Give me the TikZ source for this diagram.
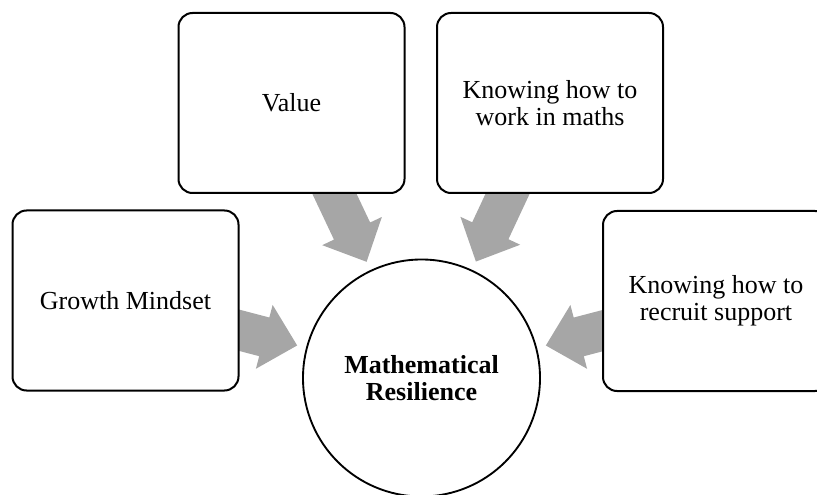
\documentclass[tikz,border=0pt]{standalone}
\usepackage{fontspec}
\setmainfont{Liberation Serif}
\usetikzlibrary{calc,backgrounds}
\begin{document}
\begin{tikzpicture}[x=0.75pt,y=-0.75pt,
  boxnode/.style={draw=black, line width=1.5pt, fill=white, rounded corners=10.5pt,
    minimum width=169.5pt, minimum height=135pt, align=center, inner sep=0pt,
    font=\fontsize{19.5}{20.5}\selectfont},
  hubnode/.style={draw=black, line width=1.4pt, fill=white, circle, minimum size=177.75pt,
    inner sep=0pt, align=center, font=\fontsize{19.5}{20.5}\selectfont\bfseries},
  blockarrow/.style={fill=black!35, draw=none}]
\useasboundingbox (0,0) rectangle (817,495);
\clip (0,0) rectangle (817,495);
\node[hubnode] (mr) at (421.5,378) {Mathematical\\Resilience};
\node[boxnode] (gm) at (125.5,300.5) {Growth Mindset};
\node[boxnode] (val) at (291.5,103) {Value};
\node[boxnode] (kw) at (550,103) {Knowing how to\\work in maths};
\node[boxnode] (kr) at (716,301) {Knowing how to\\recruit support};
\begin{pgfonlayer}{background}
\foreach \b in {gm,val,kw,kr}{
  \coordinate (tip) at ($(mr.center)!96.4pt!(\b.center)$);
  \coordinate (hb) at ($(mr.center)!121.9pt!(\b.center)$);
  \coordinate (tl) at ($(mr.center)!180pt!(\b.center)$);
  \fill[blockarrow] (tip) -- ($(hb)!24.75pt!90:(\b.center)$) -- ($(hb)!15pt!90:(\b.center)$)
    -- ($(tl)!15pt!90:(\b.center)$) -- ($(tl)!15pt!-90:(\b.center)$)
    -- ($(hb)!15pt!-90:(\b.center)$) -- ($(hb)!24.75pt!-90:(\b.center)$) -- cycle;
}
\end{pgfonlayer}
\end{tikzpicture}
\end{document}
